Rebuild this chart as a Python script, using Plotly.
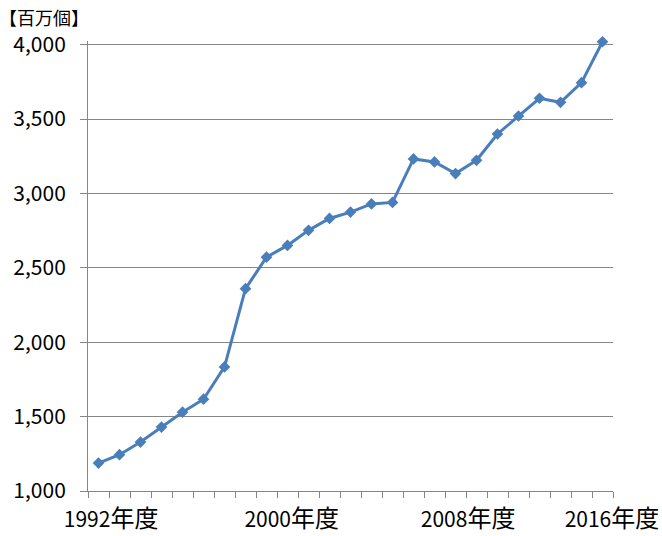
import plotly.graph_objects as go

years = list(range(1992, 2017))
values = [1188, 1244, 1329, 1430, 1530, 1617, 1834, 2360, 2572, 2651, 2752, 2832,
          2875, 2930, 2940, 3232, 3212, 3134, 3223, 3400, 3521, 3640, 3613, 3745, 4020]
label_years = [1992, 2000, 2008, 2016]
label_suffix = "年度"
unit_label = "【百万個】"

FONT = "Noto Sans CJK JP, Open Sans, sans-serif"
BLUE = "#4A7EBB"
GRID = "#868686"

label_text = [f"{y}<span style='font-size:24px'>{label_suffix}</span>" for y in label_years]
# label positions (Excel spreads category labels slightly to the right)
label_pos = [1992.6, 2001.2, 2009.6, 2016.45]

fig = go.Figure()
fig.add_trace(go.Scatter(
    x=years, y=values, mode="lines+markers",
    line=dict(color=BLUE, width=3),
    marker=dict(symbol="diamond", size=9, color=BLUE),
    cliponaxis=False, hoverinfo="x+y"))

fig.update_layout(
    width=662, height=536,
    margin=dict(l=88, r=49, t=41, b=45, autoexpand=False),
    paper_bgcolor="white", plot_bgcolor="white",
    showlegend=False,
    font=dict(family=FONT, size=21, color="#000000"),
    xaxis=dict(
        range=[1991.5, 2016.5], automargin=False,
        tickmode="array", tickvals=label_pos, ticktext=label_text,
        ticks="", showgrid=False, zeroline=False,
        showline=True, linecolor=GRID, linewidth=1,
        tickfont=dict(family=FONT, size=21),
        ticklabelstandoff=10,
        minor=dict(ticks="outside", tick0=1991.5, dtick=1, ticklen=6,
                   tickcolor=GRID, showgrid=False),
    ),
    yaxis=dict(
        range=[1000, 4025], automargin=False,
        tickmode="array", tickvals=[1000, 1500, 2000, 2500, 3000, 3500, 4000],
        tickformat=",d", ticks="outside", ticklen=7, tickcolor=GRID,
        showgrid=True, gridcolor=GRID, gridwidth=1, zeroline=False,
        showline=True, linecolor=GRID, linewidth=1,
        tickfont=dict(family=FONT, size=21),
        ticklabelstandoff=10,
    ),
    annotations=[dict(
        text=unit_label, xref="paper", yref="paper", x=-86/527, y=1 + 41/450,
        xanchor="left", yanchor="top", showarrow=False,
        font=dict(family=FONT, size=18, color="#000000"), yshift=-2, xshift=-5)],
)

fig.write_html("out.html", config={"displayModeBar": False},
               post_script="document.body.style.margin='0';")
